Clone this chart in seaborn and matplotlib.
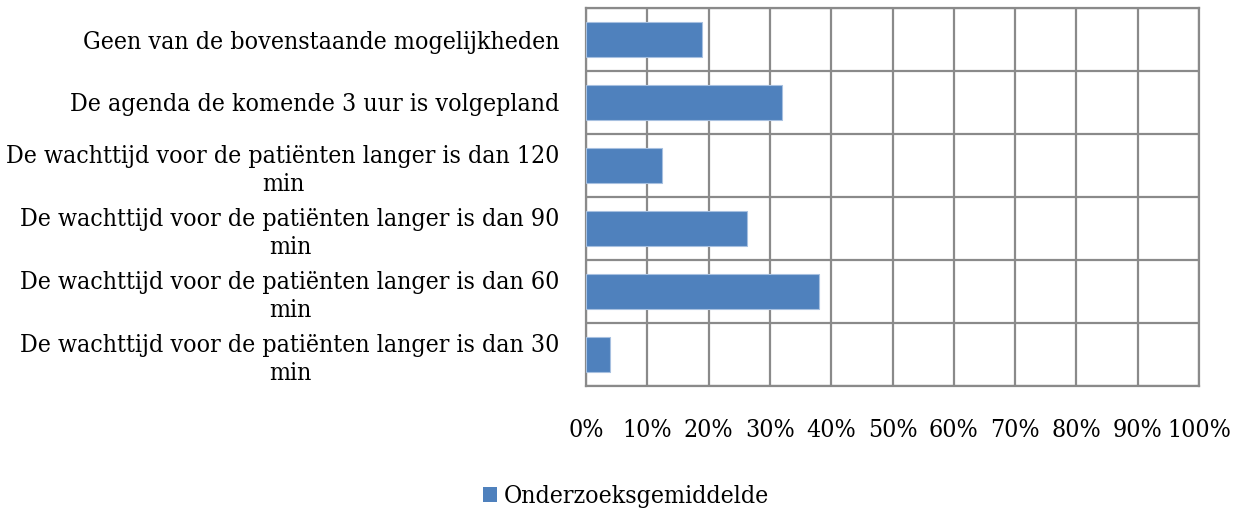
import numpy as np
import pandas as pd
import seaborn as sns
import matplotlib.pyplot as plt
from matplotlib.ticker import FixedLocator, PercentFormatter
from matplotlib.patches import Patch

# Gegevens (van boven naar beneden)
categorieen = [
    "Geen van de bovenstaande mogelijkheden",
    "De agenda de komende 3 uur is volgepland",
    "De wachttijd voor de patiënten langer is dan 120\nmin",
    "De wachttijd voor de patiënten langer is dan 90\nmin",
    "De wachttijd voor de patiënten langer is dan 60\nmin",
    "De wachttijd voor de patiënten langer is dan 30\nmin",
]
waarden = [19, 32, 12.4, 26.3, 38, 3.9]
reeks = "Onderzoeksgemiddelde"
xticks = list(range(0, 101, 10))

df = pd.DataFrame({"categorie": categorieen, "waarde": waarden})

sns.set_style("white")
plt.rcParams["font.family"] = ["DejaVu Serif Condensed", "DejaVu Serif"]
plt.rcParams["font.stretch"] = "condensed"
plt.rcParams["text.color"] = "black"
plt.rcParams["xtick.color"] = "black"
plt.rcParams["ytick.color"] = "black"

kleur = "#4F81BD"
grijs = "#8A8A8A"
fs = 17.8

fig = plt.figure(figsize=(12.33, 5.08), dpi=100)
ax = fig.add_axes([586 / 1233, 1 - 386 / 508, (1199 - 586) / 1233, (386 - 8) / 508])

sns.barplot(data=df, x="waarde", y="categorie", color=kleur, width=0.571,
            edgecolor="#A7C0E0", linewidth=0.8, saturation=1, ax=ax, zorder=3)

ax.set_xlim(0, 100)
ax.set_ylim(len(categorieen) - 0.5, -0.5)
ax.set_xticks(xticks)
ax.xaxis.set_major_formatter(PercentFormatter(decimals=0))
ax.yaxis.set_minor_locator(FixedLocator(np.arange(-0.5, len(categorieen), 1)))
ax.grid(True, axis="x", which="major", color=grijs, linewidth=1.6, zorder=0)
ax.grid(True, axis="y", which="minor", color=grijs, linewidth=1.6, zorder=0)
ax.grid(False, axis="y", which="major")
ax.set_axisbelow(True)
for s in ax.spines.values():
    s.set_color(grijs)
    s.set_linewidth(1.6)

ax.tick_params(axis="both", which="both", length=0)
ax.tick_params(axis="x", labelsize=fs, pad=24, labelcolor="black")
ax.tick_params(axis="y", labelsize=fs, pad=19, labelcolor="black")
for lbl in ax.get_yticklabels():
    lbl.set_multialignment("center")
    lbl.set_linespacing(1.3)
ax.set_xlabel("")
ax.set_ylabel("")

fig.legend(handles=[Patch(facecolor=kleur, edgecolor="none", label=reeks)],
           loc="center", bbox_to_anchor=(626 / 1233, 1 - 497 / 508), frameon=False,
           fontsize=fs, handlelength=0.55, handleheight=0.55, handletextpad=0.25,
           labelcolor="black")

fig.savefig("out.png", dpi=100)
